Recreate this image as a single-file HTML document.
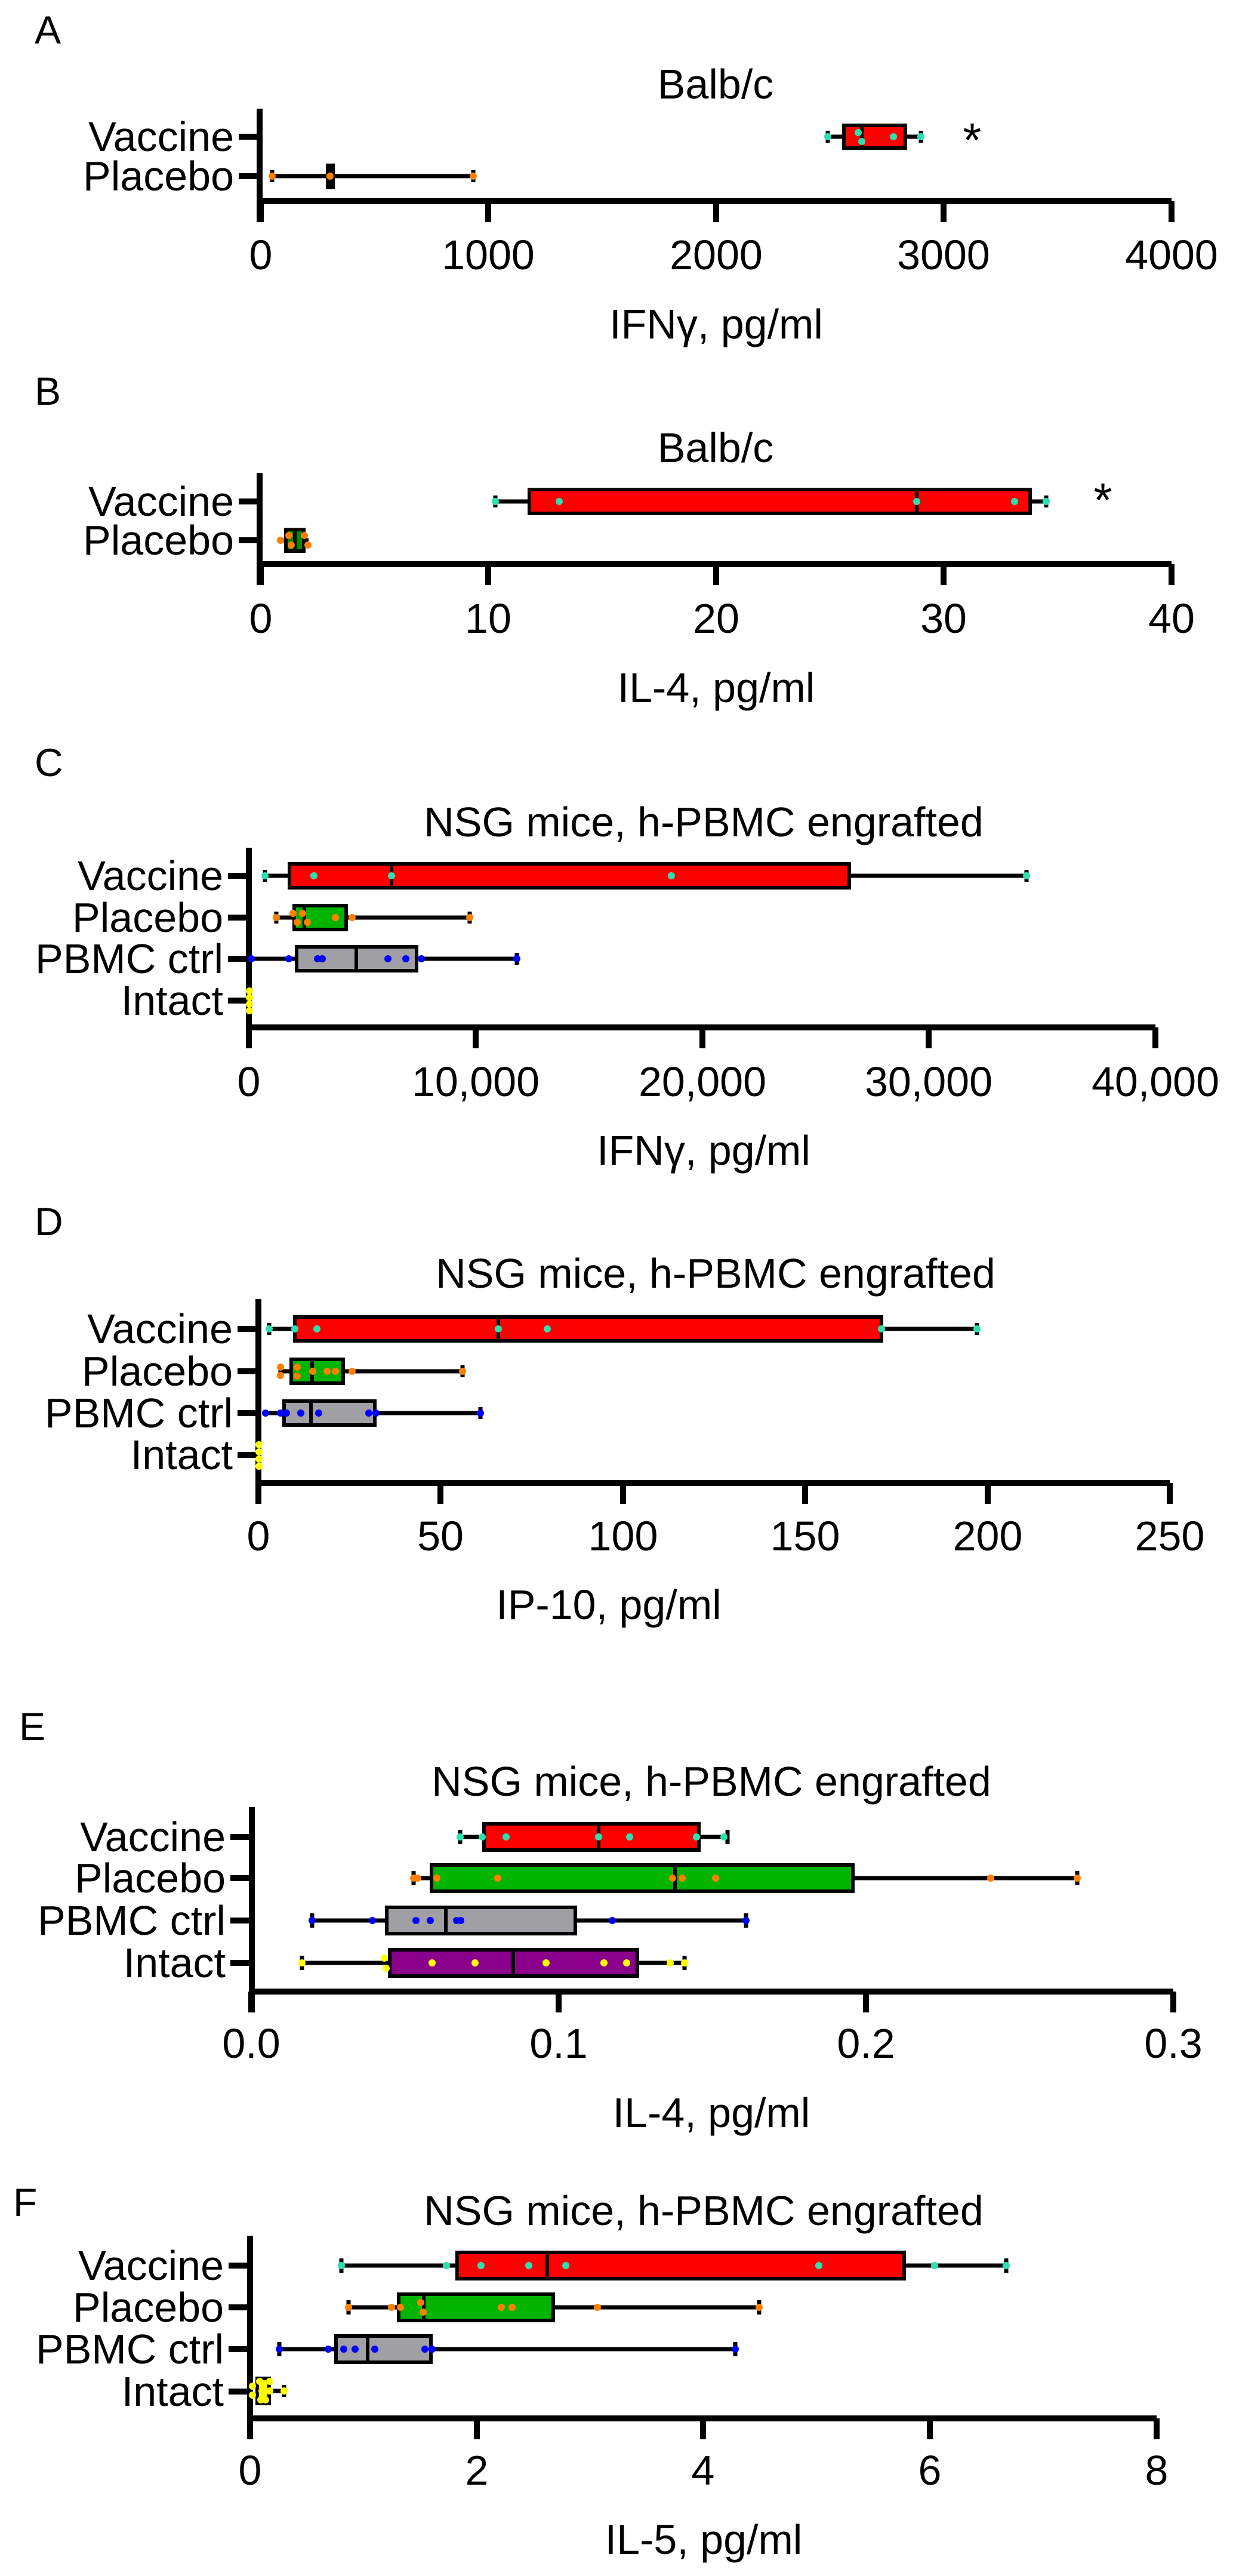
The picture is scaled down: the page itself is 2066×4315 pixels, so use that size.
<!DOCTYPE html>
<html><head><meta charset="utf-8"><style>
html,body{margin:0;padding:0;background:#fff}
svg{display:block}
text{font-family:"Liberation Sans",Arial,sans-serif;fill:#000}
.t{font-size:70px;text-anchor:middle;dominant-baseline:central}
.c{font-size:70px;text-anchor:end;dominant-baseline:central}
.L{font-size:66px;dominant-baseline:central}
.ax{stroke:#000;stroke-width:10;fill:none}
.w{stroke:#000;stroke-width:7}
.b{stroke:#000;stroke-width:6}
.cy{fill:#2de0b0}.or{fill:#ff7f00}.bl{fill:#0000ff}.ye{fill:#ffff00}
</style></head><body>
<svg width="2066" height="4315" viewBox="0 0 2066 4315" xmlns="http://www.w3.org/2000/svg">
<!-- ===== A ===== -->
<text class="L" x="58" y="50">A</text>
<text class="t" x="1199" y="141">Balb/c</text>
<path class="ax" d="M435 182V372M430 337H1963M400 229H435M400 295H435M437 337V372M818 337V372M1200 337V372M1581 337V372M1963 337V372"/>
<text class="c" x="392" y="229">Vaccine</text><text class="c" x="392" y="295">Placebo</text>
<text class="t" x="437" y="427">0</text><text class="t" x="818" y="427">1000</text><text class="t" x="1200" y="427">2000</text><text class="t" x="1581" y="427">3000</text><text class="t" x="1963" y="427">4000</text>
<text class="t" x="1200" y="543">IFNγ, pg/ml</text>
<g class="w"><line x1="1387" y1="229" x2="1414" y2="229"/><line x1="1517" y1="229" x2="1543" y2="229"/><line x1="1387" y1="219" x2="1387" y2="239"/><line x1="1543" y1="219" x2="1543" y2="239"/></g>
<rect class="b" x="1414" y="210" width="103" height="38" fill="#ff0000"/><line class="b" x1="1444" y1="210" x2="1444" y2="248"/>
<circle class="cy" cx="1387" cy="229" r="6"/><circle class="cy" cx="1438" cy="222" r="6"/><circle class="cy" cx="1444" cy="237" r="6"/><circle class="cy" cx="1497" cy="229" r="6"/><circle class="cy" cx="1543" cy="229" r="6"/>
<g class="w"><line x1="456" y1="295" x2="793" y2="295"/><line x1="456" y1="285" x2="456" y2="305"/><line x1="793" y1="285" x2="793" y2="305"/></g>
<rect x="546" y="274" width="15" height="43" fill="#000"/>
<circle class="or" cx="456" cy="295" r="6"/><circle class="or" cx="553" cy="295" r="6"/><circle class="or" cx="793" cy="295" r="6"/>
<text x="1629" y="262" style="font-size:80px;text-anchor:middle">*</text>
<!-- ===== B ===== -->
<text class="L" x="58" y="655">B</text>
<text class="t" x="1199" y="750">Balb/c</text>
<path class="ax" d="M435 792V980M430 945H1963M400 840H435M400 905H435M437 945V980M818 945V980M1200 945V980M1581 945V980M1963 945V980"/>
<text class="c" x="392" y="840">Vaccine</text><text class="c" x="392" y="905">Placebo</text>
<text class="t" x="437" y="1036">0</text><text class="t" x="818" y="1036">10</text><text class="t" x="1200" y="1036">20</text><text class="t" x="1581" y="1036">30</text><text class="t" x="1963" y="1036">40</text>
<text class="t" x="1200" y="1152">IL-4, pg/ml</text>
<g class="w"><line x1="830" y1="840" x2="887" y2="840"/><line x1="1726" y1="840" x2="1753" y2="840"/><line x1="830" y1="830" x2="830" y2="850"/><line x1="1753" y1="830" x2="1753" y2="850"/></g>
<rect class="b" x="887" y="820" width="839" height="40" fill="#ff0000"/><line class="b" x1="1536" y1="820" x2="1536" y2="860"/>
<circle class="cy" cx="830" cy="840" r="6"/><circle class="cy" cx="937" cy="840" r="6"/><circle class="cy" cx="1536" cy="840" r="6"/><circle class="cy" cx="1700" cy="840" r="6"/><circle class="cy" cx="1753" cy="840" r="6"/>
<g class="w"><line x1="468" y1="905" x2="517" y2="905"/></g>
<rect class="b" x="479" y="887" width="30" height="36" fill="#008a00"/><line class="b" x1="494" y1="887" x2="494" y2="923"/>
<circle class="or" cx="470" cy="905" r="6"/><circle class="or" cx="484" cy="897" r="6"/><circle class="or" cx="488" cy="913" r="6"/><circle class="or" cx="510" cy="897" r="6"/><circle class="or" cx="516" cy="913" r="6"/>
<text x="1848" y="865" style="font-size:80px;text-anchor:middle">*</text>
<!-- ===== C ===== -->
<text class="L" x="58" y="1277">C</text>
<text class="t" x="1179" y="1377">NSG mice, h-PBMC engrafted</text>
<path class="ax" d="M417 1420V1756M412 1721H1936M382 1467H417M382 1537H417M382 1606H417M382 1676H417M417 1721V1756M797 1721V1756M1177 1721V1756M1556 1721V1756M1936 1721V1756"/>
<text class="c" x="374" y="1467">Vaccine</text><text class="c" x="374" y="1537">Placebo</text><text class="c" x="374" y="1606">PBMC ctrl</text><text class="c" x="374" y="1676">Intact</text>
<text class="t" x="417" y="1812">0</text><text class="t" x="797" y="1812">10,000</text><text class="t" x="1177" y="1812">20,000</text><text class="t" x="1556" y="1812">30,000</text><text class="t" x="1936" y="1812">40,000</text>
<text class="t" x="1179" y="1927">IFNγ, pg/ml</text>
<g class="w"><line x1="444" y1="1467" x2="485" y2="1467"/><line x1="1423" y1="1467" x2="1720" y2="1467"/><line x1="444" y1="1457" x2="444" y2="1477"/><line x1="1720" y1="1457" x2="1720" y2="1477"/></g>
<rect class="b" x="485" y="1447" width="938" height="40" fill="#ff0000"/><line class="b" x1="656" y1="1447" x2="656" y2="1487"/>
<circle class="cy" cx="444" cy="1467" r="6"/><circle class="cy" cx="526" cy="1467" r="6"/><circle class="cy" cx="656" cy="1467" r="6"/><circle class="cy" cx="1125" cy="1467" r="6"/><circle class="cy" cx="1720" cy="1467" r="6"/>
<g class="w"><line x1="463" y1="1537" x2="493" y2="1537"/><line x1="580" y1="1537" x2="787" y2="1537"/><line x1="463" y1="1527" x2="463" y2="1547"/><line x1="787" y1="1527" x2="787" y2="1547"/></g>
<rect class="b" x="493" y="1517" width="87" height="40" fill="#00b400"/><line class="b" x1="510" y1="1517" x2="510" y2="1557"/>
<circle class="or" cx="463" cy="1537" r="6"/><circle class="or" cx="491" cy="1530" r="6"/><circle class="or" cx="498" cy="1545" r="6"/><circle class="or" cx="507" cy="1530" r="6"/><circle class="or" cx="515" cy="1545" r="6"/><circle class="or" cx="562" cy="1537" r="6"/><circle class="or" cx="590" cy="1537" r="6"/><circle class="or" cx="787" cy="1537" r="6"/>
<g class="w"><line x1="421" y1="1606" x2="497" y2="1606"/><line x1="698" y1="1606" x2="866" y2="1606"/><line x1="866" y1="1596" x2="866" y2="1616"/></g>
<rect class="b" x="497" y="1586" width="201" height="40" fill="#a0a0a4"/><line class="b" x1="597" y1="1586" x2="597" y2="1626"/>
<circle class="bl" cx="421" cy="1606" r="6"/><circle class="bl" cx="484" cy="1606" r="6"/><circle class="bl" cx="532" cy="1606" r="6"/><circle class="bl" cx="540" cy="1606" r="6"/><circle class="bl" cx="650" cy="1606" r="6"/><circle class="bl" cx="680" cy="1606" r="6"/><circle class="bl" cx="706" cy="1606" r="6"/><circle class="bl" cx="866" cy="1606" r="6"/>
<circle class="ye" cx="418" cy="1660" r="6"/><circle class="ye" cx="418" cy="1671" r="6"/><circle class="ye" cx="418" cy="1682" r="6"/><circle class="ye" cx="418" cy="1693" r="6"/>
<!-- ===== D ===== -->
<text class="L" x="58" y="2046">D</text>
<text class="t" x="1199" y="2133">NSG mice, h-PBMC engrafted</text>
<path class="ax" d="M433 2176V2519M428 2484H1960M398 2226H433M398 2297H433M398 2367H433M398 2437H433M433 2484V2519M738 2484V2519M1044 2484V2519M1349 2484V2519M1655 2484V2519M1960 2484V2519"/>
<text class="c" x="390" y="2226">Vaccine</text><text class="c" x="390" y="2297">Placebo</text><text class="c" x="390" y="2367">PBMC ctrl</text><text class="c" x="390" y="2437">Intact</text>
<text class="t" x="433" y="2573">0</text><text class="t" x="738" y="2573">50</text><text class="t" x="1044" y="2573">100</text><text class="t" x="1349" y="2573">150</text><text class="t" x="1655" y="2573">200</text><text class="t" x="1960" y="2573">250</text>
<text class="t" x="1020" y="2688">IP-10, pg/ml</text>
<g class="w"><line x1="451" y1="2226" x2="494" y2="2226"/><line x1="1477" y1="2226" x2="1637" y2="2226"/><line x1="451" y1="2216" x2="451" y2="2236"/><line x1="1637" y1="2216" x2="1637" y2="2236"/></g>
<rect class="b" x="494" y="2206" width="983" height="40" fill="#ff0000"/><line class="b" x1="835" y1="2206" x2="835" y2="2246"/>
<circle class="cy" cx="451" cy="2226" r="6"/><circle class="cy" cx="494" cy="2226" r="6"/><circle class="cy" cx="531" cy="2226" r="6"/><circle class="cy" cx="835" cy="2226" r="6"/><circle class="cy" cx="917" cy="2226" r="6"/><circle class="cy" cx="1477" cy="2226" r="6"/><circle class="cy" cx="1637" cy="2226" r="6"/>
<g class="w"><line x1="470" y1="2297" x2="488" y2="2297"/><line x1="575" y1="2297" x2="775" y2="2297"/><line x1="470" y1="2287" x2="470" y2="2307"/><line x1="775" y1="2287" x2="775" y2="2307"/></g>
<rect class="b" x="488" y="2277" width="87" height="40" fill="#00b400"/><line class="b" x1="523" y1="2277" x2="523" y2="2317"/>
<circle class="or" cx="470" cy="2290" r="6"/><circle class="or" cx="470" cy="2304" r="6"/><circle class="or" cx="498" cy="2290" r="6"/><circle class="or" cx="498" cy="2305" r="6"/><circle class="or" cx="524" cy="2297" r="6"/><circle class="or" cx="548" cy="2297" r="6"/><circle class="or" cx="562" cy="2297" r="6"/><circle class="or" cx="590" cy="2297" r="6"/><circle class="or" cx="775" cy="2297" r="6"/>
<g class="w"><line x1="445" y1="2367" x2="476" y2="2367"/><line x1="628" y1="2367" x2="805" y2="2367"/><line x1="805" y1="2357" x2="805" y2="2377"/></g>
<rect class="b" x="476" y="2347" width="152" height="40" fill="#a0a0a4"/><line class="b" x1="521" y1="2347" x2="521" y2="2387"/>
<circle class="bl" cx="445" cy="2367" r="6"/><circle class="bl" cx="470" cy="2367" r="6"/><circle class="bl" cx="480" cy="2367" r="6"/><circle class="bl" cx="504" cy="2367" r="6"/><circle class="bl" cx="534" cy="2367" r="6"/><circle class="bl" cx="618" cy="2367" r="6"/><circle class="bl" cx="630" cy="2367" r="6"/><circle class="bl" cx="805" cy="2367" r="6"/>
<circle class="ye" cx="434" cy="2420" r="6"/><circle class="ye" cx="434" cy="2432" r="6"/><circle class="ye" cx="434" cy="2444" r="6"/><circle class="ye" cx="434" cy="2456" r="6"/>
<!-- ===== E ===== -->
<text class="L" x="32" y="2892">E</text>
<text class="t" x="1192" y="2984">NSG mice, h-PBMC engrafted</text>
<path class="ax" d="M422 3027V3371M417 3336H1966M386 3077H422M386 3146H422M386 3217H422M386 3288H422M421 3336V3371M936 3336V3371M1451 3336V3371M1966 3336V3371"/>
<text class="c" x="378" y="3077">Vaccine</text><text class="c" x="378" y="3146">Placebo</text><text class="c" x="378" y="3217">PBMC ctrl</text><text class="c" x="378" y="3288">Intact</text>
<text class="t" x="421" y="3423">0.0</text><text class="t" x="936" y="3423">0.1</text><text class="t" x="1451" y="3423">0.2</text><text class="t" x="1966" y="3423">0.3</text>
<text class="t" x="1192" y="3539">IL-4, pg/ml</text>
<g class="w"><line x1="771" y1="3077" x2="811" y2="3077"/><line x1="1171" y1="3077" x2="1219" y2="3077"/><line x1="771" y1="3065" x2="771" y2="3089"/><line x1="1219" y1="3065" x2="1219" y2="3089"/></g>
<rect class="b" x="811" y="3055" width="360" height="44" fill="#ff0000"/><line class="b" x1="1003" y1="3055" x2="1003" y2="3099"/>
<circle class="cy" cx="771" cy="3077" r="6"/><circle class="cy" cx="808" cy="3077" r="6"/><circle class="cy" cx="848" cy="3077" r="6"/><circle class="cy" cx="1003" cy="3077" r="6"/><circle class="cy" cx="1055" cy="3077" r="6"/><circle class="cy" cx="1167" cy="3077" r="6"/><circle class="cy" cx="1213" cy="3077" r="6"/>
<g class="w"><line x1="693" y1="3146" x2="723" y2="3146"/><line x1="1429" y1="3146" x2="1805" y2="3146"/><line x1="693" y1="3134" x2="693" y2="3158"/><line x1="1805" y1="3134" x2="1805" y2="3158"/></g>
<rect class="b" x="723" y="3124" width="706" height="44" fill="#00b400"/><line class="b" x1="1131" y1="3124" x2="1131" y2="3168"/>
<circle class="or" cx="693" cy="3146" r="6"/><circle class="or" cx="700" cy="3146" r="6"/><circle class="or" cx="732" cy="3146" r="6"/><circle class="or" cx="834" cy="3146" r="6"/><circle class="or" cx="1127" cy="3146" r="6"/><circle class="or" cx="1143" cy="3146" r="6"/><circle class="or" cx="1199" cy="3146" r="6"/><circle class="or" cx="1660" cy="3146" r="6"/><circle class="or" cx="1805" cy="3146" r="6"/>
<g class="w"><line x1="523" y1="3217" x2="648" y2="3217"/><line x1="964" y1="3217" x2="1250" y2="3217"/><line x1="523" y1="3205" x2="523" y2="3229"/><line x1="1250" y1="3205" x2="1250" y2="3229"/></g>
<rect class="b" x="648" y="3195" width="316" height="44" fill="#a0a0a4"/><line class="b" x1="747" y1="3195" x2="747" y2="3239"/>
<circle class="bl" cx="523" cy="3217" r="6"/><circle class="bl" cx="624" cy="3217" r="6"/><circle class="bl" cx="697" cy="3217" r="6"/><circle class="bl" cx="721" cy="3217" r="6"/><circle class="bl" cx="765" cy="3217" r="6"/><circle class="bl" cx="772" cy="3217" r="6"/><circle class="bl" cx="1026" cy="3217" r="6"/><circle class="bl" cx="1250" cy="3217" r="6"/>
<g class="w"><line x1="506" y1="3288" x2="653" y2="3288"/><line x1="1068" y1="3288" x2="1147" y2="3288"/><line x1="506" y1="3276" x2="506" y2="3300"/><line x1="1147" y1="3276" x2="1147" y2="3300"/></g>
<rect class="b" x="653" y="3266" width="415" height="44" fill="#8b008b"/><line class="b" x1="860" y1="3266" x2="860" y2="3310"/>
<circle class="ye" cx="506" cy="3288" r="6"/><circle class="ye" cx="644" cy="3280" r="6"/><circle class="ye" cx="647" cy="3297" r="6"/><circle class="ye" cx="724" cy="3288" r="6"/><circle class="ye" cx="796" cy="3288" r="6"/><circle class="ye" cx="915" cy="3288" r="6"/><circle class="ye" cx="1012" cy="3288" r="6"/><circle class="ye" cx="1050" cy="3288" r="6"/><circle class="ye" cx="1123" cy="3288" r="6"/><circle class="ye" cx="1147" cy="3288" r="6"/>
<!-- ===== F ===== -->
<text class="L" x="22" y="3689">F</text>
<text class="t" x="1179" y="3703">NSG mice, h-PBMC engrafted</text>
<path class="ax" d="M419 3745V4086M414 4051H1938M383 3795H419M383 3865H419M383 3935H419M383 4006H419M419 4051V4086M799 4051V4086M1178 4051V4086M1558 4051V4086M1938 4051V4086"/>
<text class="c" x="375" y="3795">Vaccine</text><text class="c" x="375" y="3865">Placebo</text><text class="c" x="375" y="3935">PBMC ctrl</text><text class="c" x="375" y="4006">Intact</text>
<text class="t" x="419" y="4138">0</text><text class="t" x="799" y="4138">2</text><text class="t" x="1178" y="4138">4</text><text class="t" x="1558" y="4138">6</text><text class="t" x="1938" y="4138">8</text>
<text class="t" x="1179" y="4254">IL-5, pg/ml</text>
<g class="w"><line x1="572" y1="3795" x2="766" y2="3795"/><line x1="1515" y1="3795" x2="1686" y2="3795"/><line x1="572" y1="3783" x2="572" y2="3807"/><line x1="1686" y1="3783" x2="1686" y2="3807"/></g>
<rect class="b" x="766" y="3773" width="749" height="44" fill="#ff0000"/><line class="b" x1="917" y1="3773" x2="917" y2="3817"/>
<circle class="cy" cx="572" cy="3795" r="6"/><circle class="cy" cx="748" cy="3795" r="6"/><circle class="cy" cx="806" cy="3795" r="6"/><circle class="cy" cx="886" cy="3795" r="6"/><circle class="cy" cx="948" cy="3795" r="6"/><circle class="cy" cx="1372" cy="3795" r="6"/><circle class="cy" cx="1566" cy="3795" r="6"/><circle class="cy" cx="1686" cy="3795" r="6"/>
<g class="w"><line x1="584" y1="3865" x2="668" y2="3865"/><line x1="927" y1="3865" x2="1272" y2="3865"/><line x1="584" y1="3853" x2="584" y2="3877"/><line x1="1272" y1="3853" x2="1272" y2="3877"/></g>
<rect class="b" x="668" y="3843" width="259" height="44" fill="#00b400"/><line class="b" x1="710" y1="3843" x2="710" y2="3887"/>
<circle class="or" cx="584" cy="3865" r="6"/><circle class="or" cx="656" cy="3865" r="6"/><circle class="or" cx="671" cy="3865" r="6"/><circle class="or" cx="705" cy="3857" r="6"/><circle class="or" cx="709" cy="3873" r="6"/><circle class="or" cx="840" cy="3865" r="6"/><circle class="or" cx="858" cy="3865" r="6"/><circle class="or" cx="1001" cy="3865" r="6"/><circle class="or" cx="1272" cy="3865" r="6"/>
<g class="w"><line x1="468" y1="3935" x2="563" y2="3935"/><line x1="722" y1="3935" x2="1232" y2="3935"/><line x1="468" y1="3923" x2="468" y2="3947"/><line x1="1232" y1="3923" x2="1232" y2="3947"/></g>
<rect class="b" x="563" y="3913" width="159" height="44" fill="#a0a0a4"/><line class="b" x1="616" y1="3913" x2="616" y2="3957"/>
<circle class="bl" cx="468" cy="3935" r="6"/><circle class="bl" cx="550" cy="3935" r="6"/><circle class="bl" cx="576" cy="3935" r="6"/><circle class="bl" cx="595" cy="3935" r="6"/><circle class="bl" cx="628" cy="3935" r="6"/><circle class="bl" cx="712" cy="3935" r="6"/><circle class="bl" cx="724" cy="3935" r="6"/><circle class="bl" cx="1232" cy="3935" r="6"/>
<g class="w"><line x1="451" y1="4005" x2="476" y2="4005"/><line x1="476" y1="3995" x2="476" y2="4015"/></g>
<rect class="b" x="431" y="3984" width="20" height="42" fill="#ffff00"/>
<circle class="ye" cx="423" cy="3997" r="6"/><circle class="ye" cx="423" cy="4012" r="6"/><circle class="ye" cx="435" cy="3989" r="6"/><circle class="ye" cx="439" cy="4005" r="6"/><circle class="ye" cx="437" cy="4020" r="6"/><circle class="ye" cx="452" cy="3989" r="6"/><circle class="ye" cx="452" cy="4005" r="6"/><circle class="ye" cx="445" cy="4020" r="6"/><circle class="ye" cx="476" cy="4005" r="6"/>
</svg>
</body></html>
